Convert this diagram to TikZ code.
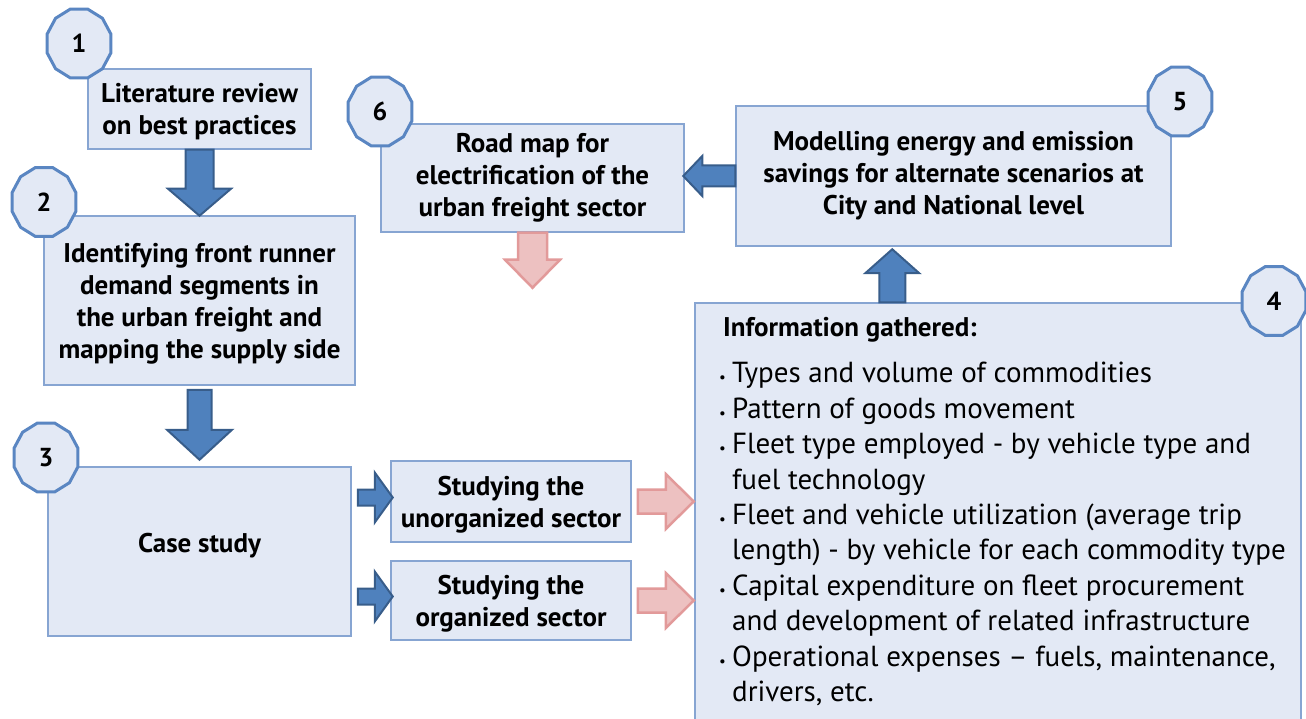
\documentclass[tikz,border=0pt]{standalone}
\usepackage{fontspec}
\setmainfont{PT Sans}
\usetikzlibrary{calc}
\definecolor{boxfill}{HTML}{E3E9F5}
\definecolor{boxline}{HTML}{87A5D2}
\definecolor{badgeline}{HTML}{5A86C2}
\definecolor{bluefill}{HTML}{4F81BD}
\definecolor{blueline}{HTML}{385D8A}
\definecolor{pinkfill}{HTML}{EDC1C1}
\definecolor{pinkline}{HTML}{E29A9A}
\tikzset{
  box/.style={draw=boxline, fill=boxfill, line width=1.5pt, inner sep=0pt, align=center,
    font=\bfseries\fontsize{27}{32}\selectfont},
  lowtext/.style={text depth=0pt},
  badgeshape/.style={draw=badgeline, fill=boxfill, line width=3pt},
  badgenum/.style={font=\bfseries\fontsize{26}{26}\selectfont, inner sep=0pt},
  bluearrow/.style={fill=bluefill, draw=blueline, line width=2pt, line join=miter},
  pinkarrow/.style={fill=pinkfill, draw=pinkline, line width=2.5pt, line join=miter},
  listtext/.style={font=\fontsize{29}{35.44}\selectfont, align=left, inner sep=0pt},
}
% #1 style, #2 start point, #3 angle, #4 shaft half width, #5 head half width, #6 shaft length, #7 head length
\newcommand{\blockarrow}[7]{%
  \draw[#1, shift={(#2)}, rotate=#3] (0,-#4) -- (#6,-#4) -- (#6,-#5) -- ({#6+#7},0)
    -- (#6,#5) -- (#6,#4) -- (0,#4) -- cycle;}
% #1 name, #2 centre, #3 number
\newcommand{\badge}[3]{%
  \draw[badgeshape, shift={(#2)}] (15:33.1 and 35.7)
    \foreach \a in {45,75,...,345} { -- (\a:33.1 and 35.7) } -- cycle;
  \node[badgenum] (#1) at (#2) {#3};}
\newcommand{\bul}{\makebox[13pt][l]{\fontsize{15}{15}\selectfont\textbullet}}
\newcommand{\ind}{\hspace*{13pt}}
\begin{document}
\begin{tikzpicture}[x=1pt,y=-1pt]
\useasboundingbox (0,0) rectangle (1306,719);
\clip (0,0) rectangle (1306,719);

% boxes
\node[box, lowtext, minimum width=223, minimum height=80] (lit) at (199.5,109) {Literature review\\on best practices};
\node[box, lowtext, minimum width=311, minimum height=169] (ident) at (199.5,300.5)
  {Identifying front runner\\demand segments in\\the urban freight and\\mapping the supply side};
\node[box, minimum width=303, minimum height=169] (case) at (199.5,551.5) {};
\node[box, lowtext, draw=none, fill=none] (caselbl) at (199.5,543) {Case study};
\node[box, lowtext, minimum width=240, minimum height=81] (unorg) at (511,501.5) {Studying the\\unorganized sector};
\node[box, lowtext, minimum width=240, minimum height=79] (org) at (511,600.5) {Studying the\\organized sector};
\node[box, minimum width=606, minimum height=427] (info) at (998,516.5) {};
\node[box, minimum width=435, minimum height=140] (model) at (953.5,176)
  {Modelling energy and emission\\savings for alternate scenarios at\\City and National level};
\node[box, minimum width=303, minimum height=108] (road) at (532.5,178)
  {Road map for\\electrification of the\\urban freight sector};

% info text
\node[anchor=west, inner sep=0pt, font=\bfseries\fontsize{27}{30}\selectfont] (infohead) at (723,330) {Information gathered:};
\node[listtext, anchor=north west] (infolist) at (719,362) {%
\bul Types and volume of commodities\\
\bul Pattern of goods movement\\
\bul Fleet type employed - by vehicle type and\\
\ind fuel technology\\
\bul Fleet and vehicle utilization (average trip\\
\ind length) - by vehicle for each commodity type\\
\bul Capital expenditure on fleet procurement\\
\ind and development of related infrastructure\\
\bul Operational expenses -- fuels, maintenance,\\
\ind drivers, etc.};

% block arrows
\blockarrow{bluearrow}{lit.south}{-90}{14}{31.5}{39}{27}
\blockarrow{bluearrow}{$(ident.south)+(0,4)$}{-90}{12}{32.5}{40}{30}
\blockarrow{bluearrow}{$(case.east|-unorg.west)+(6,-4)$}{0}{8}{25}{17}{18}
\blockarrow{bluearrow}{$(case.east|-org.west)+(6,-4)$}{0}{8}{25}{17}{18}
\blockarrow{pinkarrow}{$(unorg.east)+(6,0)$}{0}{12}{27.5}{28}{28}
\blockarrow{pinkarrow}{$(org.east)+(6,0)$}{0}{12}{27.5}{28}{28}
\blockarrow{bluearrow}{$(info.north west)+(198,0)$}{90}{13}{27}{29}{24}
\blockarrow{bluearrow}{model.west}{180}{10.5}{20}{33}{19}
\blockarrow{pinkarrow}{road.south}{-90}{14.5}{27.5}{27}{28}

% badges
\badge{b1}{79,43.5}{1}
\badge{b2}{44,202}{2}
\badge{b3}{46,457.5}{3}
\badge{b4}{1274,301}{4}
\badge{b5}{1180,101.5}{5}
\badge{b6}{380,111.5}{6}
\end{tikzpicture}
\end{document}
